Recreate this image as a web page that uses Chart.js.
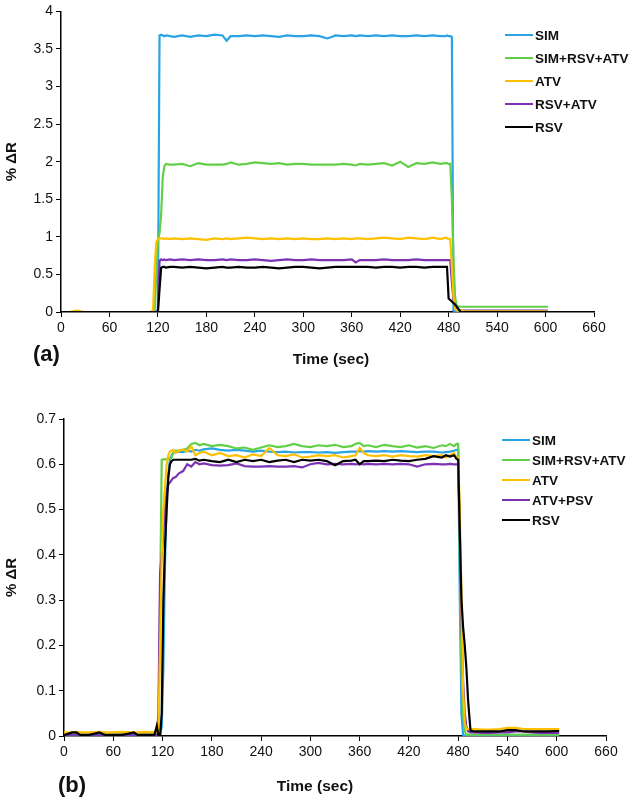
<!DOCTYPE html>
<html><head><meta charset="utf-8">
<script src="https://cdn.jsdelivr.net/npm/chart.js@4.4.1/dist/chart.umd.min.js"></script>
<style>
html,body{margin:0;padding:0;background:#fff;}
#wrapA{position:absolute;left:0;top:0;width:632px;height:375px;}
#wrapB{position:absolute;left:0;top:375px;width:632px;height:423px;}
#err{position:absolute;left:0;top:0;color:red;font:12px sans-serif;}
</style></head><body>
<div id="wrapA"><canvas id="cA" width="632" height="375"></canvas></div>
<div id="wrapB"><canvas id="cB" width="632" height="423"></canvas></div>
<div id="err"></div>
<script>
// ---------- Panel (a) ----------
const timeA = [0,10,20,30,40,50,60,70,80,90,100,110,114,116,118,120,122,124,126,128,130,135,140,150,160,170,180,190,200,205,210,220,230,240,250,260,270,280,290,300,310,320,330,340,350,360,365,370,380,390,400,410,420,430,440,450,460,470,476,478,480,482,484,486,488,490,495,500,510,520,530,540,550,560,570,580,590,600,603];
const labelsA = ['SIM','SIM+RSV+ATV','ATV','RSV+ATV','RSV'];
const simA = [0,0,0,0,0,0,0,0,0,0,0,0, 0,0,0, 0.03, 3.68, 3.69,3.68,3.67,3.68,3.67,3.66, 3.68,3.66,3.68,3.67,3.69,3.68, 3.61,
  3.67,3.67,3.68,3.67,3.68,3.67,3.66,3.68,3.67,3.67,3.68,3.67,3.64,3.68,3.67,3.68, 3.67,
  3.68,3.67,3.68,3.67,3.68,3.67,3.67,3.68,3.67,3.68,3.67, 3.67,3.68,3.67,3.67, 3.66,0.02,0.01,0.01, 0.01,
  0.01,0.01,0.01,0.01,0.01,0.01,0.01,0.01,0.01,0.01,0.01, 0.01];
const mixA = [0,0,0,0,0,0,0,0,0,0,0,0, 0,0.02,0.5, 0.95, 1.05, 1.3,1.8,1.94,1.97,1.96,1.96, 1.97,1.94,1.98,1.96,1.96,1.96, 1.97,
  1.99,1.96,1.97,1.99,1.98,1.97,1.98,1.96,1.97,1.97,1.96,1.96,1.96,1.96,1.97,1.96, 1.95,
  1.97,1.96,1.97,1.98,1.95,2.0,1.93,1.98,1.97,1.99,1.97, 1.98,1.98,1.97,1.97, 1.5,0.7,0.2,0.08, 0.07,
  0.07,0.07,0.07,0.07,0.07,0.07,0.07,0.07,0.07,0.07,0.07, 0.07];
const atvA = [0,0,0.02,0,0,0,0,0,0,0,0,0, 0.02,0.6,0.93, 0.97, 0.98, 0.98,0.98,0.97,0.98,0.97,0.98, 0.97,0.98,0.97,0.96,0.98,0.97, 0.98,
  0.97,0.98,0.99,0.98,0.97,0.98,0.97,0.98,0.97,0.98,0.97,0.97,0.98,0.97,0.98,0.97, 0.98,
  0.98,0.97,0.98,0.99,0.98,0.97,0.99,0.98,0.97,0.99,0.97, 0.99,0.98,0.97,0.97, 0.6,0.2,0.05,0.02, 0.02,
  0.01,0.01,0.01,0.01,0.01,0.01,0.01,0.01,0.01,0.01,0.01, 0.01];
const rsvAtvA = [0,0,0,0,0,0,0,0,0,0,0,0, 0,0,0, 0.02, 0.68, 0.70,0.69,0.70,0.69,0.70,0.69, 0.70,0.69,0.70,0.69,0.69,0.70, 0.69,
  0.70,0.69,0.69,0.70,0.69,0.68,0.69,0.70,0.69,0.69,0.70,0.69,0.69,0.69,0.69,0.70, 0.66,
  0.69,0.69,0.69,0.70,0.69,0.69,0.69,0.70,0.69,0.69,0.69, 0.69,0.69,0.69,0.69, 0.4,0.15,0.06,0.03, 0.02,
  0.02,0.02,0.02,0.02,0.02,0.02,0.02,0.02,0.02,0.02,0.02, 0.02];
const rsvA = [0,0,0,0,0,0,0,0,0,0,0,0, 0,0,0, 0, 0.3, 0.59,0.60,0.60,0.59,0.60,0.60, 0.59,0.60,0.59,0.58,0.59,0.60, 0.59,
  0.59,0.60,0.59,0.59,0.60,0.59,0.58,0.59,0.60,0.60,0.59,0.58,0.59,0.60,0.60,0.60, 0.60,
  0.60,0.60,0.59,0.60,0.60,0.59,0.60,0.60,0.59,0.60,0.60, 0.60,0.60,0.18,0.16, 0.14,0.12,0.10,0.07, 0.0,
  0,0,0,0,0,0,0,0,0,0,0, 0];
const yTicksA = {min:0, max:4, step:0.5};

// ---------- Panel (b) ----------
const timeB = [0,10,15,20,30,43,50,60,70,85,90,100,110,113,115,117,119,121,123,125,127,129,131,133,136,140,145,150,155,160,165,170,180,190,200,210,220,230,240,250,260,270,280,290,300,310,320,330,340,350,355,360,365,370,380,390,400,410,420,430,440,450,460,465,470,475,478,480,482,484,486,488,490,492,495,500,510,520,530,540,550,560,570,580,590,600,603];
const labelsB = ['SIM','SIM+RSV+ATV','ATV','ATV+PSV','RSV'];
const simB = [0.003,0.003,0.003,0.003,0.003,0.003,0.003,0.003,0.003,0.003,0.003,0.003,0.003,0.003,0.003,
  0.003, 0.02, 0.15,0.38,0.52,0.58,0.61,0.62,0.625,
  0.627,0.628,0.627,0.630,0.628,0.632,0.630,0.633,
  0.635,0.632,0.630,0.632,0.630,0.628,0.630,0.628,0.627,0.628,0.626,0.627,0.627,0.626,0.627,0.625,0.627,0.628,
  0.628,0.629,0.628,
  0.629,0.628,0.629,0.628,0.629,0.628,0.627,0.628,0.628,0.626,
  0.627,0.628,0.630,0.632,0.632,
  0.3,0.05,0.002,0.001,0.001,0.001,0.001,
  0.001,0.001,0.001,0.001,0.001,0.001,0.001,0.001,0.001,0.001,0.001, 0.001];
const mixB = [0.006,0.006,0.006,0.007,0.006,0.007,0.006,0.007,0.006,0.006,0.007,0.006,0.007,0.007,0.007,
  0.3, 0.61, 0.611,0.611,0.612,0.612,0.613,0.615,0.625,
  0.630,0.630,0.632,0.635,0.645,0.647,0.642,0.645,
  0.640,0.643,0.640,0.635,0.637,0.632,0.637,0.642,0.638,0.640,0.645,0.640,0.638,0.642,0.640,0.643,0.638,0.640,
  0.645,0.647,0.640,
  0.642,0.638,0.643,0.640,0.638,0.642,0.637,0.640,0.636,0.642,
  0.640,0.645,0.640,0.645,0.645,
  0.4,0.15,0.05,0.01,0.003,0.003,0.003,
  0.003,0.003,0.003,0.003,0.003,0.003,0.003,0.003,0.003,0.003,0.003, 0.003];
const atvB = [0.008,0.008,0.009,0.008,0.008,0.009,0.008,0.008,0.009,0.008,0.008,0.009,0.008,0.008,0.008,
  0.2, 0.4, 0.5,0.55,0.6,0.62,0.628,0.63,0.632,
  0.625,0.630,0.633,0.628,0.640,0.620,0.625,0.628,
  0.620,0.625,0.618,0.620,0.615,0.622,0.618,0.636,0.620,0.618,0.622,0.615,0.617,0.620,0.618,0.620,0.615,0.618,
  0.620,0.636,0.625,
  0.620,0.618,0.620,0.617,0.620,0.618,0.617,0.620,0.618,0.620,
  0.615,0.620,0.625,0.615,0.615,
  0.5,0.3,0.1,0.03,0.015,0.015,0.015,
  0.015,0.014,0.014,0.015,0.018,0.018,0.015,0.015,0.015,0.015,0.015, 0.015];
const atvPsvB = [0.003,0.003,0.003,0.003,0.003,0.003,0.003,0.003,0.003,0.003,0.003,0.003,0.003,0.003,0.05,
  0.36, 0.40, 0.45,0.50,0.54,0.555,0.56,0.565,0.57,
  0.572,0.58,0.585,0.60,0.595,0.605,0.60,0.602,
  0.598,0.597,0.598,0.602,0.596,0.595,0.595,0.596,0.595,0.595,0.596,0.593,0.600,0.603,0.600,0.601,0.600,0.601,
  0.600,0.601,0.600,
  0.601,0.600,0.601,0.600,0.601,0.600,0.595,0.600,0.601,0.600,
  0.600,0.601,0.600,0.600,0.600,
  0.45,0.25,0.12,0.05,0.02,0.01,0.008,
  0.008,0.007,0.007,0.008,0.008,0.01,0.01,0.008,0.007,0.007,0.007, 0.007];
const rsvB = [0.002,0.008,0.008,0.002,0.002,0.008,0.002,0.002,0.002,0.008,0.002,0.002,0.002,0.022,0.002,
  0.0, 0.05, 0.30,0.42,0.50,0.57,0.60,0.607,0.61,
  0.61,0.61,0.61,0.61,0.61,0.612,0.608,0.61,
  0.607,0.605,0.61,0.605,0.61,0.607,0.61,0.605,0.608,0.61,0.605,0.61,0.608,0.61,0.607,0.598,0.607,0.608,
  0.61,0.60,0.607,
  0.607,0.608,0.607,0.61,0.608,0.607,0.61,0.612,0.618,0.615,
  0.62,0.617,0.62,0.612,0.61,
  0.45,0.30,0.24,0.20,0.15,0.08,0.012,
  0.01,0.01,0.01,0.01,0.013,0.013,0.01,0.01,0.01,0.01,0.011, 0.011];
const yTicksB = {min:0, max:0.7, step:0.1};

const xTicks = {min:0, max:660, step:60};
const colors = ['#29a3e3','#63cf48','#ffc000','#7d32b3','#000000'];
const drawOrder = [5,4,2,3,1];

const FONT = '"Liberation Sans", Arial, Helvetica, sans-serif';

const deco = {
  id: 'deco',
  afterDraw(chart, args, o) {
    const ctx = chart.ctx;
    ctx.save();
    chart.data.datasets.forEach((ds, i) => {
      const y = o.legendY + i * o.legendGap;
      ctx.strokeStyle = ds.borderColor; ctx.lineWidth = 2;
      ctx.beginPath(); ctx.moveTo(o.legendX, y); ctx.lineTo(o.legendX + 28, y); ctx.stroke();
      ctx.fillStyle = '#111'; ctx.font = 'bold 13.5px ' + FONT;
      ctx.textBaseline = 'middle'; ctx.textAlign = 'left';
      ctx.fillText(ds.label, o.legendX + 30, y + 1);
    });
    ctx.fillStyle = '#111';
    ctx.textBaseline = 'middle';
    ctx.font = 'bold 15.5px ' + FONT; ctx.textAlign = 'center';
    ctx.fillText(o.xTitle, o.xTitleX, o.xTitleY);
    ctx.font = 'bold 22px ' + FONT; ctx.textAlign = 'left';
    ctx.fillText(o.panel, o.panelX, o.panelY);
    ctx.restore();
  }
};

function build(id, T, series, labels, yt, dims, decoOpts) {
  const bad = series.filter(s => s.length !== T.length);
  if (bad.length) document.getElementById('err').textContent += id + ' length mismatch: ' + series.map(s => s.length).join(',') + ' vs ' + T.length + ' ';
  const datasets = series.map((s, i) => ({
    label: labels[i],
    data: T.map((t, k) => ({x: t, y: s[k]})),
    borderColor: colors[i],
    backgroundColor: colors[i],
    borderWidth: 2.2,
    pointRadius: 0,
    tension: 0,
    fill: false,
    order: drawOrder[i]
  }));
  const tickFont = {family: FONT, size: 14};
  return new Chart(document.getElementById(id), {
    type: 'line',
    data: {datasets},
    options: {
      responsive: false,
      animation: false,
      events: [],
      layout: {padding: dims.padding},
      plugins: {legend: {display: false}, tooltip: {enabled: false}, deco: decoOpts},
      scales: {
        x: {
          type: 'linear', min: xTicks.min, max: xTicks.max,
          ticks: {stepSize: xTicks.step, color: '#111', font: tickFont, padding: 3, maxRotation: 0, autoSkip: false},
          grid: {drawOnChartArea: false, drawTicks: true, tickLength: 5, color: '#000', lineWidth: 1},
          border: {color: '#000', width: 1.5},
          afterFit: s => { s.height = 30; }
        },
        y: {
          type: 'linear', min: yt.min, max: yt.max,
          ticks: {stepSize: yt.step, color: '#111', font: tickFont, padding: 3,
                  callback: v => String(Math.round(v * 100) / 100)},
          grid: {drawOnChartArea: false, drawTicks: true, tickLength: 5, color: '#000', lineWidth: 1},
          border: {color: '#000', width: 1.5},
          title: {display: true, text: '% ΔR', color: '#111', font: {family: FONT, size: 15, weight: 'bold'}, padding: {top: 3, bottom: 0}},
          afterFit: s => { s.width = dims.yWidth; }
        }
      }
    },
    plugins: [deco]
  });
}

build('cA', timeA, [simA, mixA, atvA, rsvAtvA, rsvA], labelsA, yTicksA,
  {padding: {left: 0, right: 38, top: 7, bottom: 33}, yWidth: 61},
  {legendX: 505, legendY: 35, legendGap: 23, xTitle: 'Time (sec)', xTitleX: 331, xTitleY: 360, panel: '(a)', panelX: 33, panelY: 355});
build('cB', timeB, [simB, mixB, atvB, atvPsvB, rsvB], labelsB, yTicksB,
  {padding: {left: 0, right: 26, top: 44, bottom: 32}, yWidth: 64},
  {legendX: 502, legendY: 65, legendGap: 20, xTitle: 'Time (sec)', xTitleX: 315, xTitleY: 412, panel: '(b)', panelX: 58, panelY: 411});
</script></body></html>
